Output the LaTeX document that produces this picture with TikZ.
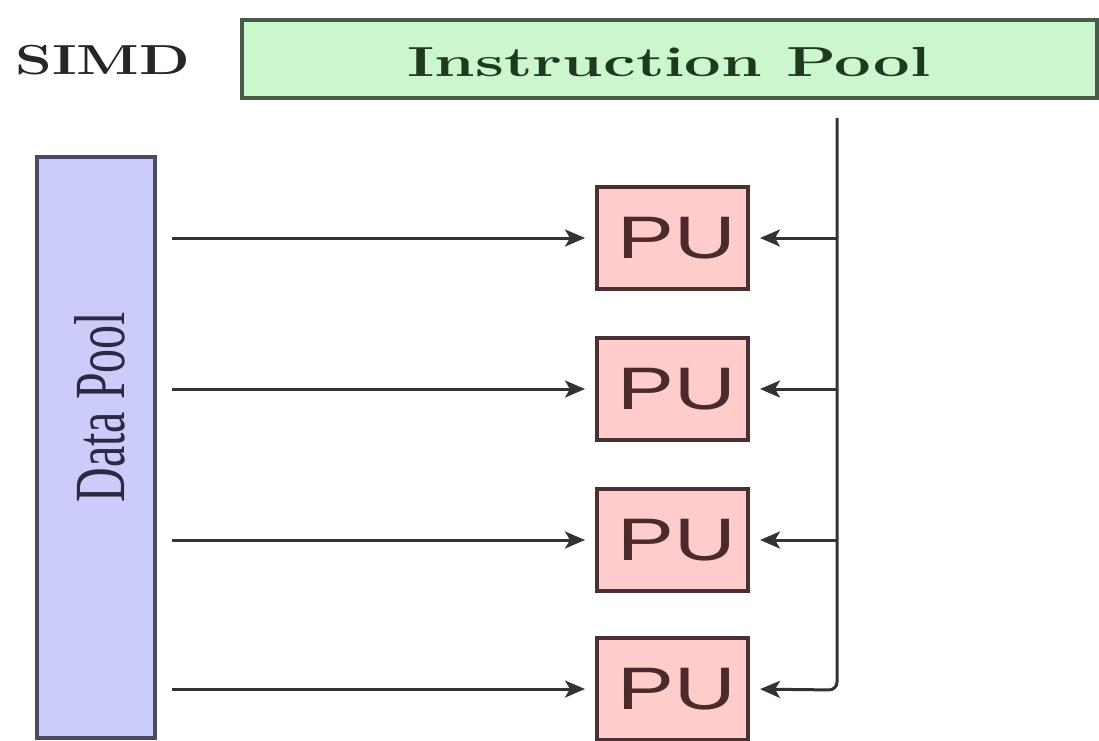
\documentclass[tikz,border=0pt]{standalone}
\usepackage{fontspec}
\newfontfamily\timesf{Liberation Serif}
\newfontfamily\sansf{Liberation Sans}
\usetikzlibrary{arrows.meta}
\definecolor{ipfill}{HTML}{CCF7CC}
\definecolor{ipline}{HTML}{4A5A4A}
\definecolor{iptext}{HTML}{1E3A1E}
\definecolor{dpfill}{HTML}{CCCCFA}
\definecolor{dpline}{HTML}{4A4A66}
\definecolor{dptext}{HTML}{2A2A44}
\definecolor{pufill}{HTML}{FFCCCC}
\definecolor{puline}{HTML}{4A3030}
\definecolor{putext}{HTML}{4A2A2A}
\definecolor{wire}{HTML}{333333}
\tikzset{
  pool/.style={draw, line width=4pt, inner sep=0pt, rectangle},
  pubox/.style={pool, draw=puline, fill=pufill, text=putext,
    minimum width=151pt, minimum height=102pt,
    font=\sansf\fontsize{60}{60}\selectfont},
  feed/.style={draw=wire, line width=3pt,
    -{Stealth[length=20pt,width=17pt,inset=5pt]}, shorten >=10pt},
  busline/.style={feed, rounded corners=8pt},
}
\begin{document}
\begin{tikzpicture}[x=1pt,y=-1pt]
  \useasboundingbox[fill=white] (0,0) rectangle (1099,740);

  % instruction side
  \node[pool, draw=ipline, fill=ipfill, text=iptext,
        minimum width=855pt, minimum height=78pt] (ip) at (669.5,59) {};
  \node[text=iptext, font=\bfseries\fontsize{42}{42}\selectfont] (iplabel) at (669,62)
        {\scalebox{1.55}[1]{Instruction Pool}};
  \node[text=black!85, font=\bfseries\fontsize{42}{42}\selectfont] (simd) at (103,60)
        {\scalebox{1.4}[1]{SIMD}};

  % data side
  \node[pool, draw=dpline, fill=dpfill,
        minimum width=118pt, minimum height=581pt] (dp) at (96,447.5) {};
  \node[text=dptext, font=\timesf\fontsize{48}{48}\selectfont, rotate=90]
        (dplabel) at (100,407) {\scalebox{1}[1.5]{Data Pool}};

  % processing units
  \foreach \i/\y in {1/238,2/389,3/540,4/689}
    \node[pubox] (pu\i) at (672.5,\y) {\hspace*{8pt}\scalebox{1.42}[1]{PU}};

  % instruction bus
  \coordinate (bustop) at (837,118);
  \coordinate (buscorner) at (837,690);
  \draw[busline] (bustop) -- (buscorner) -- (pu4.east);
  \foreach \i in {1,2,3}
    \draw[feed] (bustop |- pu\i) -- (pu\i.east);

  % data feeds
  \foreach \i in {1,2,3,4}
    \draw[feed] ([xshift=15pt]dp.east |- pu\i) -- (pu\i.west);
\end{tikzpicture}
\end{document}
